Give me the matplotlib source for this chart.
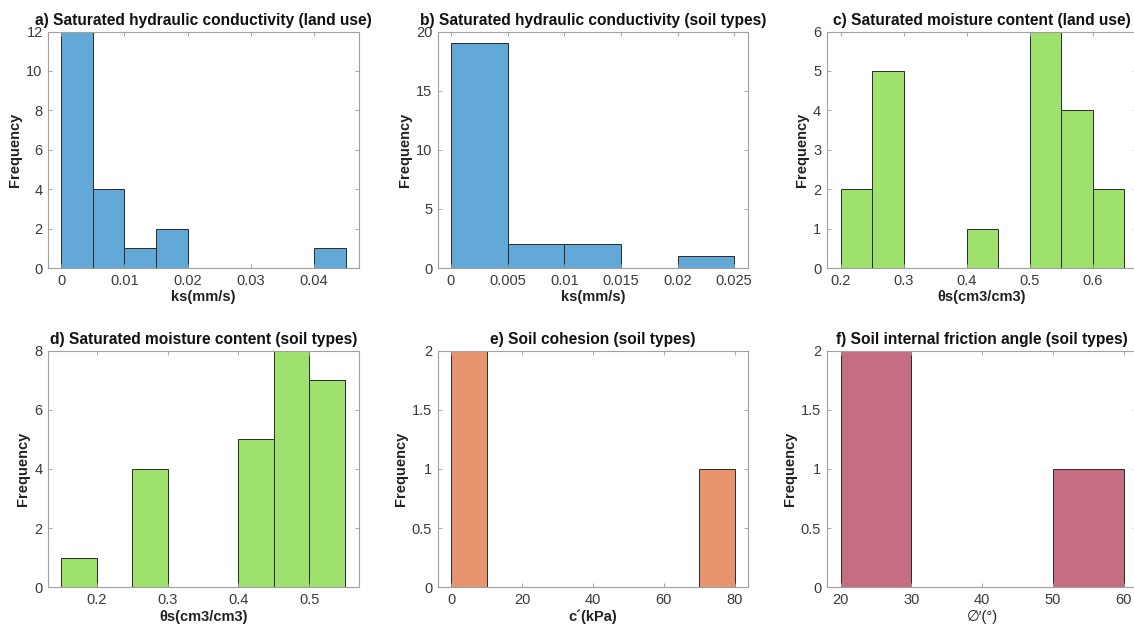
import matplotlib
matplotlib.use('Agg')
import matplotlib.pyplot as plt
import numpy as np

plt.rcParams['font.family'] = ['Liberation Sans', 'DejaVu Sans']

# Histogram bins (edges) and counts
ks_land_edges = [0, 0.005, 0.01, 0.015, 0.02, 0.025, 0.03, 0.035, 0.04, 0.045]
ks_land_counts = [12, 4, 1, 2, 0, 0, 0, 0, 1]

ks_soil_edges = [0, 0.005, 0.01, 0.015, 0.02, 0.025]
ks_soil_counts = [19, 2, 2, 0, 1]

ts_land_edges = [0.2, 0.25, 0.3, 0.35, 0.4, 0.45, 0.5, 0.55, 0.6, 0.65]
ts_land_counts = [2, 5, 0, 0, 1, 0, 6, 4, 2]

ts_soil_edges = [0.15, 0.2, 0.25, 0.3, 0.35, 0.4, 0.45, 0.5, 0.55]
ts_soil_counts = [1, 0, 4, 0, 0, 5, 8, 7]

coh_edges = [0, 10, 20, 30, 40, 50, 60, 70, 80]
coh_counts = [2, 0, 0, 0, 0, 0, 0, 1]

phi_edges = [20, 30, 40, 50, 60]
phi_counts = [2, 0, 0, 1]

panels = [
    dict(edges=ks_land_edges, counts=ks_land_counts, color='#63a9d8',
         title='a) Saturated hydraulic conductivity (land use)', xlabel='ks(mm/s)',
         xlim=(-0.00201, 0.0471), xticks=[0, 0.01, 0.02, 0.03, 0.04],
         ylim=(0, 12), yticks=[0, 2, 4, 6, 8, 10, 12], pos=(48.3, 31.5)),
    dict(edges=ks_soil_edges, counts=ks_soil_counts, color='#63a9d8',
         title='b) Saturated hydraulic conductivity (soil types)', xlabel='ks(mm/s)',
         xlim=(-0.00117, 0.02624), xticks=[0, 0.005, 0.01, 0.015, 0.02, 0.025],
         ylim=(0, 20), yticks=[0, 5, 10, 15, 20], pos=(437.7, 31.5)),
    dict(edges=ts_land_edges, counts=ts_land_counts, color='#9fe16d',
         title='c) Saturated moisture content (land use)', xlabel='θs(cm3/cm3)',
         xlim=(0.1777, 0.671), xticks=[0.2, 0.3, 0.4, 0.5, 0.6],
         ylim=(0, 6), yticks=[0, 1, 2, 3, 4, 5, 6], pos=(826.7, 31.5)),
    dict(edges=ts_soil_edges, counts=ts_soil_counts, color='#9fe16d',
         title='d) Saturated moisture content (soil types)', xlabel='θs(cm3/cm3)',
         xlim=(0.1318, 0.570), xticks=[0.2, 0.3, 0.4, 0.5],
         ylim=(0, 8), yticks=[0, 2, 4, 6, 8], pos=(48.3, 350.7)),
    dict(edges=coh_edges, counts=coh_counts, color='#e8956f',
         title='e) Soil cohesion (soil types)', xlabel='c´(kPa)',
         xlim=(-3.76, 83.8), xticks=[0, 20, 40, 60, 80],
         ylim=(0, 2), yticks=[0, 0.5, 1, 1.5, 2], pos=(437.7, 350.7)),
    dict(edges=phi_edges, counts=phi_counts, color='#c56e81',
         title='f) Soil internal friction angle (soil types)', xlabel='∅′(°)',
         xlim=(18.02, 61.9), xticks=[20, 30, 40, 50, 60],
         ylim=(0, 2), yticks=[0, 0.5, 1, 1.5, 2], pos=(826.7, 350.7)),
]

W, H = 1134, 629
fig = plt.figure(figsize=(W / 100, H / 100), dpi=100)
fig.patch.set_facecolor('white')

ax_w, ax_h = 310.6, 236.6
for p in panels:
    left, top = p['pos']
    ax = fig.add_axes([left / W, (H - top - ax_h) / H, ax_w / W, ax_h / H])
    edges = np.array(p['edges'])
    ax.bar(edges[:-1], p['counts'], width=np.diff(edges), align='edge',
           color=p['color'], edgecolor='#2a2a2a', linewidth=0.7)
    ax.set_xlim(*p['xlim'])
    ax.set_ylim(*p['ylim'])
    ax.set_xticks(p['xticks'])
    ax.set_yticks(p['yticks'])
    ax.set_xticklabels(['%g' % t for t in p['xticks']])
    ax.set_yticklabels(['%g' % t for t in p['yticks']])
    ax.tick_params(direction='in', top=True, right=True, length=3, width=0.6,
                   colors='#999999', labelcolor='#3a3a3a', labelsize=10.5, pad=4)
    for s in ax.spines.values():
        s.set_color('#a0a0a0')
        s.set_linewidth(0.8)
    ax.set_title(p['title'], fontsize=11.2, fontweight='bold', pad=4.5, color='#111111')
    weight = 'normal' if p['xlabel'].startswith('∅') else 'bold'
    ax.set_xlabel(p['xlabel'], fontsize=10.5, fontweight=weight, color='#222222', labelpad=2)
    ax.set_ylabel('Frequency', fontsize=10.5, fontweight='bold', color='#222222', labelpad=3)

fig.savefig('out.png', dpi=100)
